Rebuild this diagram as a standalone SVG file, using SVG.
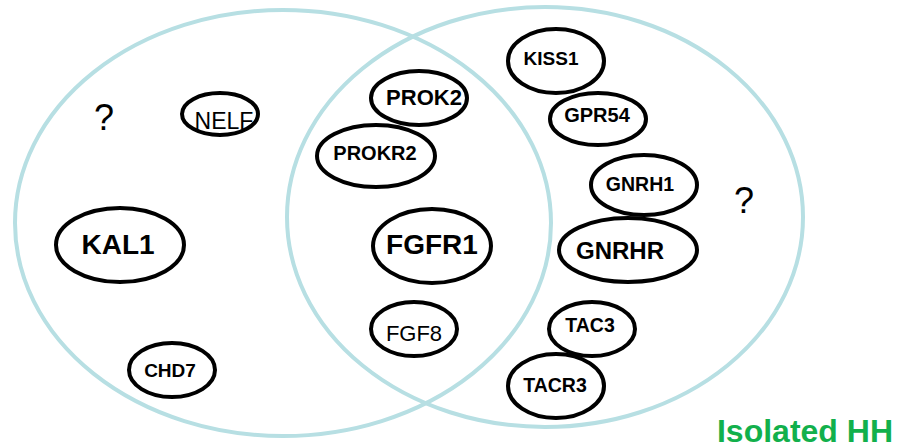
<svg xmlns="http://www.w3.org/2000/svg" width="902" height="448" viewBox="0 0 902 448">
  <style>
    .set { fill: none; stroke: #b7dfe3; stroke-width: 4; }
    .gene { fill: none; stroke: #000; stroke-width: 4; }
    text { font-family: "Liberation Sans", Arial, sans-serif; fill: #000; text-anchor: middle; }
    .b { font-weight: bold; }
    .q { font-size: 36px; }
    .title { font-weight: bold; fill: #12b04c; font-size: 32px; text-anchor: end; }
  </style>
  <rect width="902" height="448" fill="#fff"/>

  <!-- two overlapping sets -->
  <g id="sets">
    <ellipse id="set-left" class="set" cx="283" cy="223" rx="268" ry="213"/>
    <ellipse id="set-right" class="set" cx="545" cy="217" rx="258" ry="210"/>
  </g>

  <g id="connectors"></g>

  <g id="q-left"><text class="q" x="104" y="130">?</text></g>
  <g id="q-right"><text class="q" x="744" y="213">?</text></g>

  <g id="NELF">
    <ellipse class="gene" cx="220" cy="114" rx="38" ry="21"/>
    <text x="224" y="129" font-size="23">NELF</text>
  </g>
  <g id="KAL1">
    <ellipse class="gene" cx="120" cy="245" rx="64" ry="37"/>
    <text class="b" x="118" y="254" font-size="28">KAL1</text>
  </g>
  <g id="CHD7">
    <ellipse class="gene" cx="172" cy="370" rx="43" ry="27"/>
    <text class="b" x="170" y="377" font-size="19">CHD7</text>
  </g>
  <g id="PROK2">
    <ellipse class="gene" cx="419" cy="98" rx="48" ry="27"/>
    <text class="b" x="424" y="105" font-size="22">PROK2</text>
  </g>
  <g id="PROKR2">
    <ellipse class="gene" cx="376" cy="156" rx="59" ry="31"/>
    <text class="b" x="375" y="160" font-size="20">PROKR2</text>
  </g>
  <g id="FGFR1">
    <ellipse class="gene" cx="432" cy="246" rx="59" ry="37"/>
    <text class="b" x="432" y="254" font-size="28">FGFR1</text>
  </g>
  <g id="FGF8">
    <ellipse class="gene" cx="414" cy="329" rx="43" ry="27"/>
    <text x="414" y="341" font-size="22">FGF8</text>
  </g>
  <g id="KISS1">
    <ellipse class="gene" cx="556" cy="61" rx="48" ry="32"/>
    <text class="b" x="551" y="65" font-size="19">KISS1</text>
  </g>
  <g id="GPR54">
    <ellipse class="gene" cx="598" cy="119" rx="48" ry="26"/>
    <text class="b" x="597" y="122" font-size="20">GPR54</text>
  </g>
  <g id="GNRH1">
    <ellipse class="gene" cx="644" cy="185" rx="53" ry="30"/>
    <text class="b" x="640" y="191" font-size="19.5">GNRH1</text>
  </g>
  <g id="GNRHR">
    <ellipse class="gene" cx="628" cy="250" rx="69" ry="32"/>
    <text class="b" x="620" y="259" font-size="24">GNRHR</text>
  </g>
  <g id="TAC3">
    <ellipse class="gene" cx="592" cy="329" rx="43" ry="27"/>
    <text class="b" x="590" y="332" font-size="19.5">TAC3</text>
  </g>
  <g id="TACR3">
    <ellipse class="gene" cx="556" cy="386" rx="48" ry="32"/>
    <text class="b" x="555" y="392" font-size="19.5">TACR3</text>
  </g>

  <g id="label"><text class="title" x="893" y="442">Isolated HH</text></g>
</svg>
